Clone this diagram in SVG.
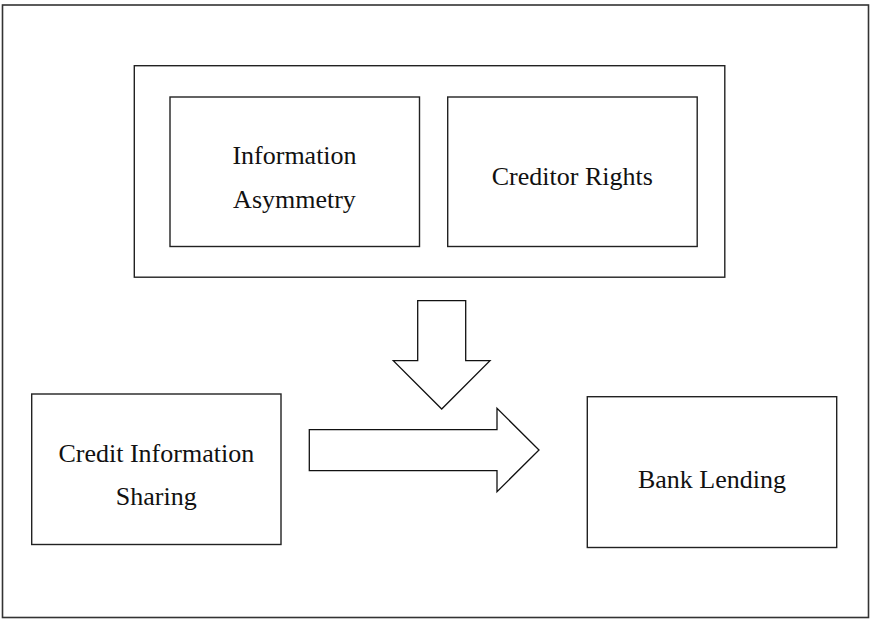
<svg xmlns="http://www.w3.org/2000/svg" width="870" height="619" viewBox="0 0 870 619">
  <style>
    .box { fill: #ffffff; stroke: #222222; stroke-width: 1.4; }
    .frame { fill: #ffffff; stroke: #333333; stroke-width: 1.6; }
    .arrow { fill: #ffffff; stroke: #111111; stroke-width: 1.3; stroke-linejoin: miter; }
    .label { font-family: "Liberation Serif", "Times New Roman", serif; font-size: 26px; fill: #111111; text-anchor: middle; }
  </style>

  <!-- page frame -->
  <rect class="frame" x="2.5" y="5" width="866" height="612.5"/>

  <!-- moderating factors container -->
  <g id="moderators">
    <rect class="box" x="134.3" y="65.7" width="590.5" height="211.5"/>
    <g id="info-asymmetry">
      <rect class="box" x="170" y="97" width="249.5" height="149.5"/>
      <text class="label" x="294.5" y="164">Information</text>
      <text class="label" x="294.5" y="208">Asymmetry</text>
    </g>
    <g id="creditor-rights">
      <rect class="box" x="447.7" y="97" width="249.5" height="149.5"/>
      <text class="label" x="572.3" y="185">Creditor Rights</text>
    </g>
  </g>

  <g id="credit-info-sharing">
    <rect class="box" x="31.7" y="394" width="249.3" height="150.5"/>
    <text class="label" x="156.3" y="461.5">Credit Information</text>
    <text class="label" x="156.3" y="505">Sharing</text>
  </g>

  <g id="bank-lending">
    <rect class="box" x="587.3" y="396.7" width="249.4" height="150.8"/>
    <text class="label" x="712" y="488.3">Bank Lending</text>
  </g>

  <!-- connectors: block arrows -->
  <g id="connectors">
    <polygon class="arrow" points="417.7,300.7 465.7,300.7 465.7,360.7 490,360.7 441.7,409 393.3,360.7 417.7,360.7"/>
    <polygon class="arrow" points="309.3,429.7 497,429.7 497,408.3 539,450 497,491.7 497,470.7 309.3,470.7"/>
  </g>
</svg>
